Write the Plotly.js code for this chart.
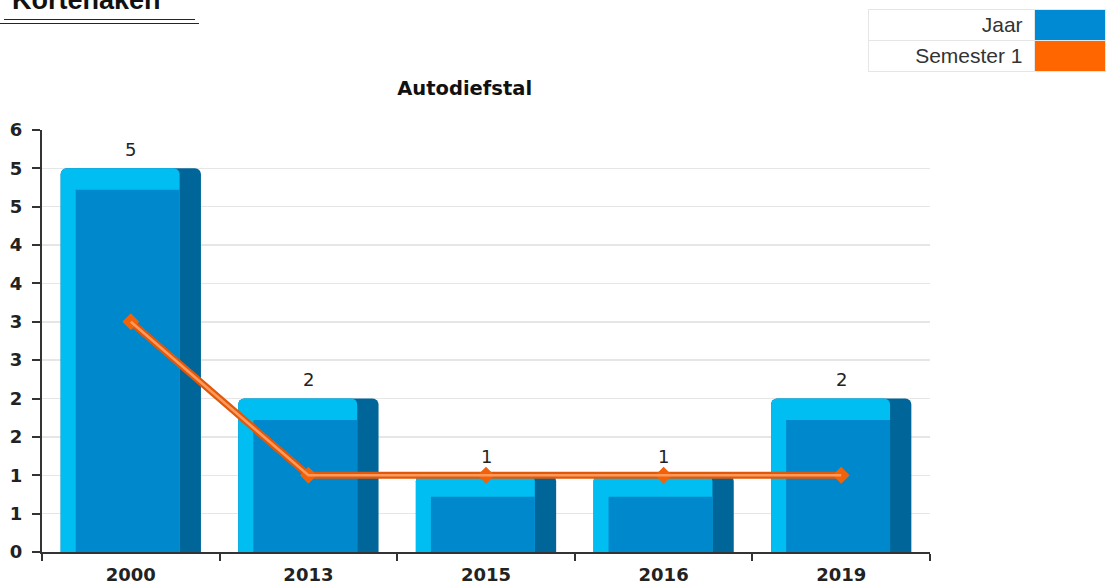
<!DOCTYPE html>
<html>
<head>
<meta charset="utf-8">
<script src="https://cdn.plot.ly/plotly-3.0.1.min.js"></script>
<style>
  html, body { margin: 0; padding: 0; background: #fff; width: 1106px; height: 585px; overflow: hidden; }
  #chart { position: absolute; left: 0; top: 0; width: 1106px; height: 585px; }
  #hdr { position: absolute; left: 12px; top: -15px; font: bold 27px "Liberation Sans", Arial, sans-serif; color: #111; white-space: nowrap; }
  #ul1 { position: absolute; left: 4px; top: 19px; width: 191px; height: 1px; background: #1010c8; }
  #ul2 { position: absolute; left: 0px; top: 23px; width: 199px; height: 1px; background: #1010c8; }
  #legend { position: absolute; left: 868px; top: 9px; border-collapse: collapse; font: 21px "Liberation Sans", Arial, sans-serif; color: #333; }
  #legend td { border: 1px solid #e6e6e6; height: 30px; padding: 0; }
  #legend td.lbl { width: 155px; text-align: right; padding-right: 11px; }
  #legend td.sw { width: 72px; }
</style>
</head>
<body>
<div id="chart"></div>
<div id="hdr">Kortenaken</div>
<div id="ul1"></div>
<div id="ul2"></div>
<table id="legend">
  <tr><td class="lbl">Jaar</td><td class="sw" style="background:#008ad3"></td></tr>
  <tr><td class="lbl">Semester 1</td><td class="sw" style="background:#ff6600"></td></tr>
</table>
<script>
const categories = ['2000', '2013', '2015', '2016', '2019'];
const jaarValues = [5, 2, 1, 1, 2];
const semester1Values = [3, 1, 1, 1, 1];
const yTickVals = [0, 0.5, 1, 1.5, 2, 2.5, 3, 3.5, 4, 4.5, 5, 5.5];
const yTickText = ['0', '1', '1', '2', '2', '3', '3', '4', '4', '5', '5', '6'];
const chartTitle = 'Autodiefstal';

const barW = 0.79;
const shadow = {
  type: 'bar', x: categories, y: jaarValues, name: 'Jaar',
  width: barW, marker: { color: '#006699', cornerradius: 6 },
  showlegend: false, hoverinfo: 'x+y'
};
const light = {
  type: 'bar', x: categories, y: jaarValues,
  width: barW - 0.12, offset: -barW / 2,
  marker: { color: '#00bdf2', cornerradius: 6 },
  showlegend: false, hoverinfo: 'skip'
};
const main = {
  type: 'bar', x: categories, y: jaarValues.map(v => v - 0.28),
  width: barW - 0.085 - 0.12, offset: -barW / 2 + 0.085,
  marker: { color: '#0088cc' },
  showlegend: false, hoverinfo: 'skip'
};
const line = {
  type: 'scatter', mode: 'lines+markers', x: categories, y: semester1Values, name: 'Semester 1',
  line: { color: '#e0580a', width: 7 },
  marker: { symbol: 'diamond', size: 13, color: '#f26208' },
  showlegend: false, cliponaxis: false
};
const lineHi = {
  type: 'scatter', mode: 'lines', x: categories, y: semester1Values,
  line: { color: '#ff9a5c', width: 2.5 },
  showlegend: false, hoverinfo: 'skip', cliponaxis: false
};

// category axes place annotations by category index
const valueLabels = categories.map((c, i) => ({
  x: i, y: jaarValues[i], xref: 'x', yref: 'y',
  text: String(jaarValues[i]), showarrow: false,
  yanchor: 'middle', yshift: 19,
  font: { family: 'DejaVu Sans', size: 18, color: '#222' }
}));

const layout = {
  width: 1106, height: 585,
  margin: { l: 42, r: 176, t: 130, b: 33 },
  paper_bgcolor: '#fff', plot_bgcolor: '#fff',
  barmode: 'overlay',
  showlegend: false,
  title: {
    text: '<b>' + chartTitle + '</b>',
    font: { family: 'DejaVu Sans', size: 19.5, color: '#111' },
    x: 0.476, xref: 'paper', xanchor: 'center',
    y: 1 - 88 / 585, yref: 'container', yanchor: 'middle'
  },
  annotations: valueLabels,
  xaxis: {
    type: 'category', tickson: 'boundaries', ticks: 'outside', ticklen: 7, tickcolor: '#333', tickwidth: 2,
    showline: true, linecolor: '#333', linewidth: 2, showgrid: false, ticklabelstandoff: 5,
    tickfont: { family: 'DejaVu Sans', size: 18, color: '#222', weight: 'bold' },
    range: [-0.5, 4.5], fixedrange: true
  },
  yaxis: {
    range: [0, 5.5], tickvals: yTickVals, ticktext: yTickText,
    ticks: 'outside', ticklen: 8, tickcolor: '#333', tickwidth: 2,
    showline: true, linecolor: '#333', linewidth: 2,
    showgrid: true, gridcolor: '#e6e6e6', gridwidth: 1.5,
    zeroline: false, ticklabelstandoff: 6,
    tickfont: { family: 'DejaVu Sans', size: 18, color: '#222', weight: 'bold' },
    fixedrange: true
  }
};

Plotly.newPlot('chart', [shadow, light, main, line, lineHi], layout, { displayModeBar: false, staticPlot: true });
</script>
</body>
</html>
